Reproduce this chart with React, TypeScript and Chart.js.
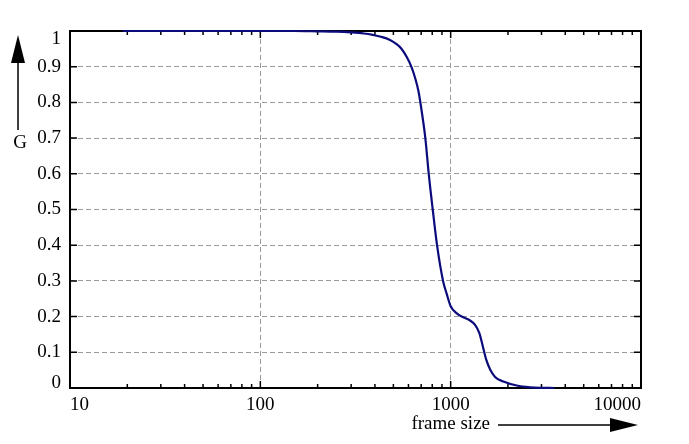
import { useEffect, useRef } from 'react';
import { Chart, registerables } from 'chart.js';

Chart.register(...registerables);

// values
const frameSizes = [
  19, 60, 100, 150, 200, 250, 300, 350, 390, 430, 480, 520, 550, 588, 625, 650,
  677, 693, 736, 767, 805, 848, 912, 954, 1000, 1076, 1166, 1265, 1343, 1415,
  1475, 1536, 1612, 1711, 1892, 2223, 2613, 2953, 3500,
];
const gValues = [
  1.0, 1.0, 1.0, 1.0, 0.999, 0.998, 0.996, 0.993, 0.989, 0.984, 0.975, 0.963, 0.951, 0.927, 0.897, 0.869,
  0.832, 0.8, 0.7, 0.6, 0.5, 0.4, 0.3, 0.263, 0.229, 0.209, 0.198, 0.189, 0.177, 0.154,
  0.117, 0.08, 0.052, 0.031, 0.018, 0.007, 0.002, 0.0005, 0.0,
];
const xTickValues = [10, 100, 1000, 10000];
const yTickValues = [0, 0.1, 0.2, 0.3, 0.4, 0.5, 0.6, 0.7, 0.8, 0.9, 1];
const xTitle = 'frame size';
const yTitle = 'G';

const FONT = '"Liberation Serif", "Times New Roman", serif';
const GRID = '#9a9a9a';

const yLabel = (v: number) => (v === 0 || v === 1 ? String(v) : v.toFixed(1));

// box, inner tick marks, y labels and the two arrow titles
const framePlugin = {
  id: 'frame',
  beforeDatasetsDraw(chart: any) {
    const { ctx, chartArea: a, scales } = chart;
    const xs = scales.x;
    const ys = scales.y;
    ctx.save();
    ctx.strokeStyle = '#000';
    ctx.lineWidth = 2;
    ctx.strokeRect(a.left, a.top, a.right - a.left, a.bottom - a.top);

    ctx.lineWidth = 1.5;
    ctx.beginPath();
    for (const v of yTickValues) {
      const py = ys.getPixelForValue(v);
      ctx.moveTo(a.left, py);
      ctx.lineTo(a.left + 7, py);
      ctx.moveTo(a.right, py);
      ctx.lineTo(a.right - 7, py);
    }
    for (let d = 10; d < 10000; d *= 10) {
      for (let m = 1; m <= 9; m++) {
        const px = xs.getPixelForValue(d * m);
        const len = m === 1 ? 7 : 4;
        ctx.moveTo(px, a.bottom);
        ctx.lineTo(px, a.bottom - len);
        ctx.moveTo(px, a.top);
        ctx.lineTo(px, a.top + len);
      }
    }
    ctx.stroke();
    ctx.restore();
  },
  afterDraw(chart: any) {
    const { ctx, chartArea: a, scales } = chart;
    const ys = scales.y;
    ctx.save();
    ctx.fillStyle = '#000';
    ctx.strokeStyle = '#000';
    ctx.font = `19px ${FONT}`;
    ctx.textAlign = 'right';
    ctx.textBaseline = 'middle';
    for (const v of yTickValues) {
      let py = ys.getPixelForValue(v);
      py = Math.min(Math.max(py, a.top + 8), a.bottom - 5);
      ctx.fillText(yLabel(v), a.left - 9, py);
    }

    // y title with up arrow
    ctx.textAlign = 'center';
    ctx.fillText(yTitle, 20, 143);
    ctx.lineWidth = 1.5;
    ctx.beginPath();
    ctx.moveTo(18, 130);
    ctx.lineTo(18, 55);
    ctx.stroke();
    ctx.beginPath();
    ctx.moveTo(18, 35);
    ctx.lineTo(11, 63);
    ctx.lineTo(25, 63);
    ctx.closePath();
    ctx.fill();

    // x title with right arrow
    ctx.textAlign = 'right';
    ctx.fillText(xTitle, 490, 424);
    ctx.beginPath();
    ctx.moveTo(498, 425);
    ctx.lineTo(615, 425);
    ctx.stroke();
    ctx.beginPath();
    ctx.moveTo(638, 425);
    ctx.lineTo(610, 418);
    ctx.lineTo(610, 432);
    ctx.closePath();
    ctx.fill();
    ctx.restore();
  },
};

function GChart() {
  const canvasRef = useRef<HTMLCanvasElement>(null);
  const chartRef = useRef<Chart | null>(null);

  useEffect(() => {
    if (!canvasRef.current) return;
    if (chartRef.current) chartRef.current.destroy();

    chartRef.current = new Chart(canvasRef.current, {
      type: 'line',
      data: {
        datasets: [{
          data: frameSizes.map((x, i) => ({ x, y: gValues[i] })),
          borderColor: '#0b0b7c',
          borderWidth: 2.2,
          pointRadius: 0,
          cubicInterpolationMode: 'monotone',
          clip: false as any,
        }],
      },
      options: {
        responsive: true,
        maintainAspectRatio: false,
        animation: false,
        layout: { padding: { top: 31, right: 48, left: 0, bottom: 0 } },
        scales: {
          x: {
            type: 'logarithmic',
            min: 10,
            max: 10000,
            afterBuildTicks: (scale: any) => { scale.ticks = xTickValues.map((value) => ({ value })); },
            afterFit: (scale: any) => { scale.height = 56; },
            border: { display: false, dash: [5, 3] },
            grid: {
              drawTicks: false,
              lineWidth: 1,
              color: (c: any) => (c.tick && c.tick.value > 10 && c.tick.value < 10000 ? GRID : 'transparent'),
            },
            ticks: {
              autoSkip: false,
              maxRotation: 0,
              align: 'inner',
              padding: 6,
              color: '#000',
              font: { family: FONT, size: 19 },
              callback: (v: any) => String(v),
            },
          },
          y: {
            min: 0,
            max: 1,
            afterBuildTicks: (scale: any) => { scale.ticks = yTickValues.map((value) => ({ value })); },
            afterFit: (scale: any) => { scale.width = 70; },
            border: { display: false, dash: [5, 3] },
            grid: {
              drawTicks: false,
              lineWidth: 1,
              color: (c: any) => (c.tick && c.tick.value > 0.05 && c.tick.value < 0.95 ? GRID : 'transparent'),
            },
            ticks: { display: false },
          },
        },
        plugins: {
          legend: { display: false },
          tooltip: { enabled: false },
        },
      },
      plugins: [framePlugin],
    });

    return () => { chartRef.current?.destroy(); };
  }, []);

  return (
    <div style={{ width: 689, height: 444, position: 'relative', background: '#fff' }}>
      <canvas ref={canvasRef} />
    </div>
  );
}

export default function App() {
  useEffect(() => { document.body.style.margin = '0'; }, []);
  return <GChart />;
}
